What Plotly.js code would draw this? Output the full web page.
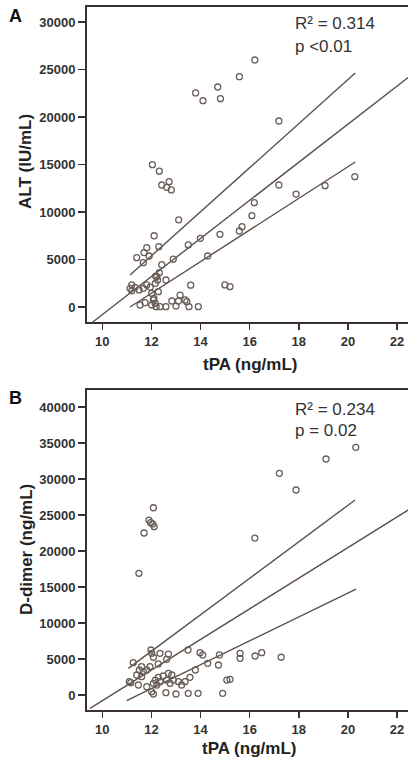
<!DOCTYPE html>
<html>
<head>
<meta charset="utf-8">
<script src="https://cdn.plot.ly/plotly-3.0.1.min.js"></script>
<style>html,body{margin:0;padding:0;background:#fff;}#chart{width:408px;height:767px;}</style>
</head>
<body>
<div id="chart"></div>
<script>
// Panel A: tPA vs ALT
const tpaA = [13.80,14.10,14.70,14.81,15.58,16.21,17.19,12.04,12.32,20.28,
  12.42,12.72,12.62,12.81,13.11,17.19,19.07,17.89,16.19,16.09,15.69,15.58,14.79,13.99,13.50,14.29,
  12.11,12.30,11.81,11.40,11.70,11.91,11.67,12.89,12.42,12.59,12.22,12.32,12.16,12.28,
  11.20,11.13,11.33,11.67,11.81,12.01,13.60,14.99,15.20,13.17,12.83,13.10,13.37,13.44,
  12.08,12.01,12.19,12.35,12.59,13.00,13.53,13.91,11.54,11.74,12.17,12.25,11.50,11.20,12.10,12.15,11.95];
const altA = [22530,21720,23160,21930,24240,26000,19580,14980,14300,13720,
  12840,13190,12600,12320,9180,12840,12770,11890,10980,9610,8450,8000,7650,7230,6530,5370,
  7500,6350,6240,5190,5720,5370,4670,5030,4450,2840,3190,3610,2490,1610,
  2320,1970,2070,1970,2320,1440,2300,2320,2140,1260,630,630,740,560,
  740,210,30,30,30,100,30,30,210,450,3260,2840,1800,1700,900,400,2100];
const fitAx = [9.6, 22.5];
const fitAy = [-1600, 24250];
const upAx = [11.13, 20.3];
const upAy = [3370, 24630];
const loAx = [11.13, 20.3];
const loAy = [0, 15260];
const statA = ["R² = 0.314", "p <0.01"];

// Panel B: tPA vs D-dimer
const tpaB = [20.32,19.11,17.21,17.89,16.21,12.08,11.90,11.97,12.05,12.11,11.70,11.49,
  17.28,16.49,16.22,15.61,15.61,14.77,14.73,14.29,14.09,13.98,13.49,13.79,13.57,15.07,15.20,
  14.90,13.90,13.50,13.00,12.59,12.08,12.01,11.98,12.01,12.08,12.35,12.69,12.62,12.28,
  11.26,11.60,11.94,11.51,11.67,11.81,11.40,11.60,11.10,11.16,11.47,11.81,12.08,12.16,12.28,
  12.48,12.69,12.83,12.89,13.10,13.23,13.37,12.22,12.35,12.62,12.76];
const ddB = [34400,32780,30790,28470,21800,26010,24300,23930,23750,23380,22500,16900,
  5240,5880,5420,5790,5090,5560,4170,4400,5560,5880,6250,3470,2450,2080,2180,
  230,230,230,140,320,140,460,6250,5790,5240,5790,5690,4960,4310,
  4490,3930,3930,3470,3240,3470,2780,2550,1850,1710,1390,1150,1620,2080,2450,
  2640,3010,2780,2080,1850,1390,1850,1390,1850,2080,1620];
const fitBx = [9.5, 22.5];
const fitBy = [-1850, 25800];
const upBx = [11.06, 20.29];
const upBy = [3700, 27080];
const loBx = [10.99, 20.33];
const loBy = [-790, 14720];
const statB = ["R² = 0.234", "p = 0.02"];

const xTicks = [10,12,14,16,18,20,22];
const yTicksA = [0,5000,10000,15000,20000,25000,30000];
const yTicksB = [0,5000,10000,15000,20000,25000,30000,35000,40000];
const xTitle = "tPA (ng/mL)";
const yTitleA = "ALT (IU/mL)";
const yTitleB = "D-dimer (ng/mL)";

const FONT = "Liberation Sans, Arial, sans-serif";
const lineCol = "#5e504b";
const axCol = "#3b3230";
const mk = {symbol:"circle-open", size:6, color:"#6a5e59", line:{width:1.3, color:"#6a5e59"}};
const ln = {color:lineCol, width:1.4};

function lineTrace(x,y,xa,ya){return {x:x,y:y,xaxis:xa,yaxis:ya,mode:"lines",line:ln,hoverinfo:"skip",showlegend:false};}

const data = [
  lineTrace(fitAx,fitAy,"x","y"), lineTrace(upAx,upAy,"x","y"), lineTrace(loAx,loAy,"x","y"),
  {x:tpaA,y:altA,xaxis:"x",yaxis:"y",mode:"markers",marker:mk,showlegend:false},
  lineTrace(fitBx,fitBy,"x2","y2"), lineTrace(upBx,upBy,"x2","y2"), lineTrace(loBx,loBy,"x2","y2"),
  {x:tpaB,y:ddB,xaxis:"x2",yaxis:"y2",mode:"markers",marker:mk,showlegend:false}
];

const H = 767, W = 408;
function py(p){return 1 - p/H;}
const tickFont = {family:FONT, size:13, color:"#333", weight:"bold"};
const titleFont = {family:FONT, size:17, color:"#222", weight:"bold"};

function xax(anchor){
  return {anchor:anchor, domain:[87/W, 1], range:[9.377, 22.447], tickvals:xTicks, ticktext:xTicks.map(String),
    ticks:"outside", ticklen:6, tickwidth:1.5, tickcolor:axCol, showline:true, linewidth:2, linecolor:axCol,
    mirror:true, showgrid:false, zeroline:false, tickfont:tickFont};
}
function yax(anchor, dom, rng, tv){
  return {anchor:anchor, domain:dom, range:rng, tickvals:tv, ticktext:tv.map(String),
    ticks:"outside", ticklen:7, tickwidth:1.5, tickcolor:axCol, showline:true, linewidth:2, linecolor:axCol,
    mirror:false, showgrid:false, zeroline:false, tickfont:tickFont};
}
function ann(x, y, text, font, opts){
  return Object.assign({xref:"paper", yref:"paper", x:x/W, y:py(y), text:text, showarrow:false,
    xanchor:"left", yanchor:"middle", font:font}, opts||{});
}
const statFont = {family:FONT,size:17,color:"#333"};
const letterFont = {family:FONT,size:18,color:"#111",weight:"bold"};

const layout = {
  width:W, height:H, margin:{l:0,r:0,t:0,b:0}, paper_bgcolor:"#fff", plot_bgcolor:"#fff",
  showlegend:false,
  xaxis: xax("y"),
  yaxis: yax("x", [py(322), py(7)], [-1579, 31579], yTicksA),
  xaxis2: xax("y2"),
  yaxis2: yax("x2", [py(710), py(390)], [-2083, 42361], yTicksB),
  annotations: [
    ann(7, 16, "A", letterFont),
    ann(7, 398, "B", letterFont),
    ann(293, 24, statA[0], statFont),
    ann(293, 47, statA[1], statFont),
    ann(293, 409, statB[0], statFont),
    ann(293, 430, statB[1], statFont),
    ann(250, 364, xTitle, titleFont, {xanchor:"center"}),
    ann(249, 748, xTitle, titleFont, {xanchor:"center"}),
    ann(26, 162, yTitleA, titleFont, {xanchor:"center", textangle:-90}),
    ann(26, 550, yTitleB, titleFont, {xanchor:"center", textangle:-90})
  ]
};

Plotly.newPlot("chart", data, layout, {staticPlot:true, displayModeBar:false});
</script>
</body>
</html>
